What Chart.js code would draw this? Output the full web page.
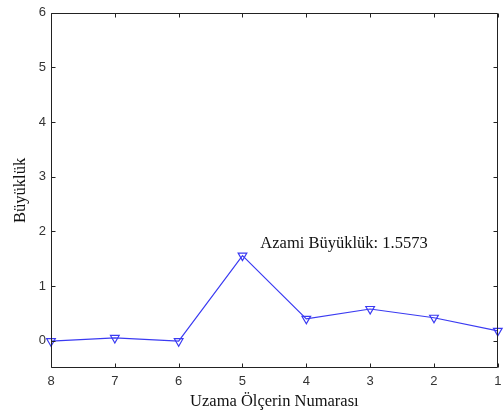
<!DOCTYPE html>
<html>
<head>
<meta charset="utf-8">
<script src="https://cdn.jsdelivr.net/npm/chart.js@4/dist/chart.umd.min.js"></script>
<style>
  html, body { margin: 0; padding: 0; background: #fff; }
  #wrap { width: 504px; height: 412px; }
</style>
</head>
<body>
<div id="wrap"><canvas id="chart"></canvas></div>
<script>
// Gauge numbers (x axis runs 8 -> 1) and measured magnitudes
const gaugeNumbers = [8, 7, 6, 5, 4, 3, 2, 1];
const magnitudes = [-0.01, 0.05, -0.01, 1.5573, 0.40, 0.58, 0.42, 0.18];
const yTicks = [0, 1, 2, 3, 4, 5, 6];
const xTicks = [1, 2, 3, 4, 5, 6, 7, 8];
const peakLabel = 'Azami Büyüklük: 1.5573';
const peakLabelPos = { x: 4.72, y: 1.78 };

const lineColor = '#3a3af2';
const axisColor = '#222';
const serif = '"Liberation Serif", "Times New Roman", serif';

// Draw inward ticks, the box frame and the peak annotation
const framePlugin = {
    id: 'frame',
    afterDatasetsDraw(chart) {
        const ctx = chart.ctx;
        const a = chart.chartArea;
        const xs = chart.scales.x;
        const ys = chart.scales.y;
        const len = 4;
        const L = Math.round(a.left) + 0.5;
        const R = Math.round(a.right) - 0.5;
        const T = Math.round(a.top) + 0.5;
        const B = Math.round(a.bottom) - 0.5;

        ctx.save();
        ctx.strokeStyle = axisColor;
        ctx.lineWidth = 1;
        ctx.setLineDash([]);
        ctx.beginPath();
        ctx.moveTo(L, T);
        ctx.lineTo(R, T);
        ctx.lineTo(R, B);
        ctx.lineTo(L, B);
        ctx.closePath();

        xTicks.forEach(v => {
            const px = Math.round(xs.getPixelForValue(v)) + 0.5;
            ctx.moveTo(px, B);
            ctx.lineTo(px, B - len);
            ctx.moveTo(px, T);
            ctx.lineTo(px, T + len);
        });
        yTicks.forEach(v => {
            const py = Math.round(ys.getPixelForValue(v)) + 0.5;
            ctx.moveTo(L, py);
            ctx.lineTo(L + len, py);
            ctx.moveTo(R, py);
            ctx.lineTo(R - len, py);
        });
        ctx.stroke();

        ctx.fillStyle = '#111';
        ctx.font = '16.5px ' + serif;
        ctx.textAlign = 'left';
        ctx.textBaseline = 'middle';
        ctx.fillText(peakLabel, xs.getPixelForValue(peakLabelPos.x), ys.getPixelForValue(peakLabelPos.y));
        ctx.restore();
    }
};

new Chart(document.getElementById('chart'), {
    type: 'line',
    data: {
        datasets: [{
            data: gaugeNumbers.map((g, i) => ({ x: g, y: magnitudes[i] })),
            borderColor: lineColor,
            borderWidth: 1.2,
            pointStyle: 'triangle',
            rotation: 180,
            pointRadius: 5,
            pointBorderWidth: 1.2,
            pointBorderColor: lineColor,
            pointBackgroundColor: 'rgba(0,0,0,0)',
            tension: 0,
            clip: false
        }]
    },
    options: {
        responsive: true,
        maintainAspectRatio: false,
        animation: false,
        layout: { padding: { top: 11, right: 3, left: 0, bottom: 0 } },
        plugins: {
            legend: { display: false },
            tooltip: { enabled: false }
        },
        scales: {
            x: {
                type: 'linear',
                reverse: true,
                min: 1,
                max: 8,
                afterBuildTicks: s => { s.ticks = xTicks.map(v => ({ value: v })); },
                afterFit: s => { s.height = 44; },
                grid: { display: false, drawTicks: false },
                border: { display: false },
                ticks: {
                    color: '#333',
                    font: { family: '"Liberation Sans", Arial, sans-serif', size: 13 },
                    padding: 6,
                    maxRotation: 0
                },
                title: {
                    display: true,
                    text: 'Uzama Ölçerin Numarası',
                    color: '#111',
                    font: { family: serif, size: 16.5 },
                    padding: { top: 0, bottom: 0 }
                }
            },
            y: {
                min: -0.5,
                max: 6,
                afterBuildTicks: s => { s.ticks = yTicks.map(v => ({ value: v })); },
                afterFit: s => { s.width = 51; },
                grid: { display: false, drawTicks: false },
                border: { display: false },
                ticks: {
                    color: '#333',
                    font: { family: '"Liberation Sans", Arial, sans-serif', size: 13 },
                    padding: 5
                },
                title: {
                    display: true,
                    text: 'Büyüklük',
                    color: '#111',
                    font: { family: serif, size: 16.5 },
                    padding: { top: 11, bottom: 0 }
                }
            }
        }
    },
    plugins: [framePlugin]
});
</script>
</body>
</html>
